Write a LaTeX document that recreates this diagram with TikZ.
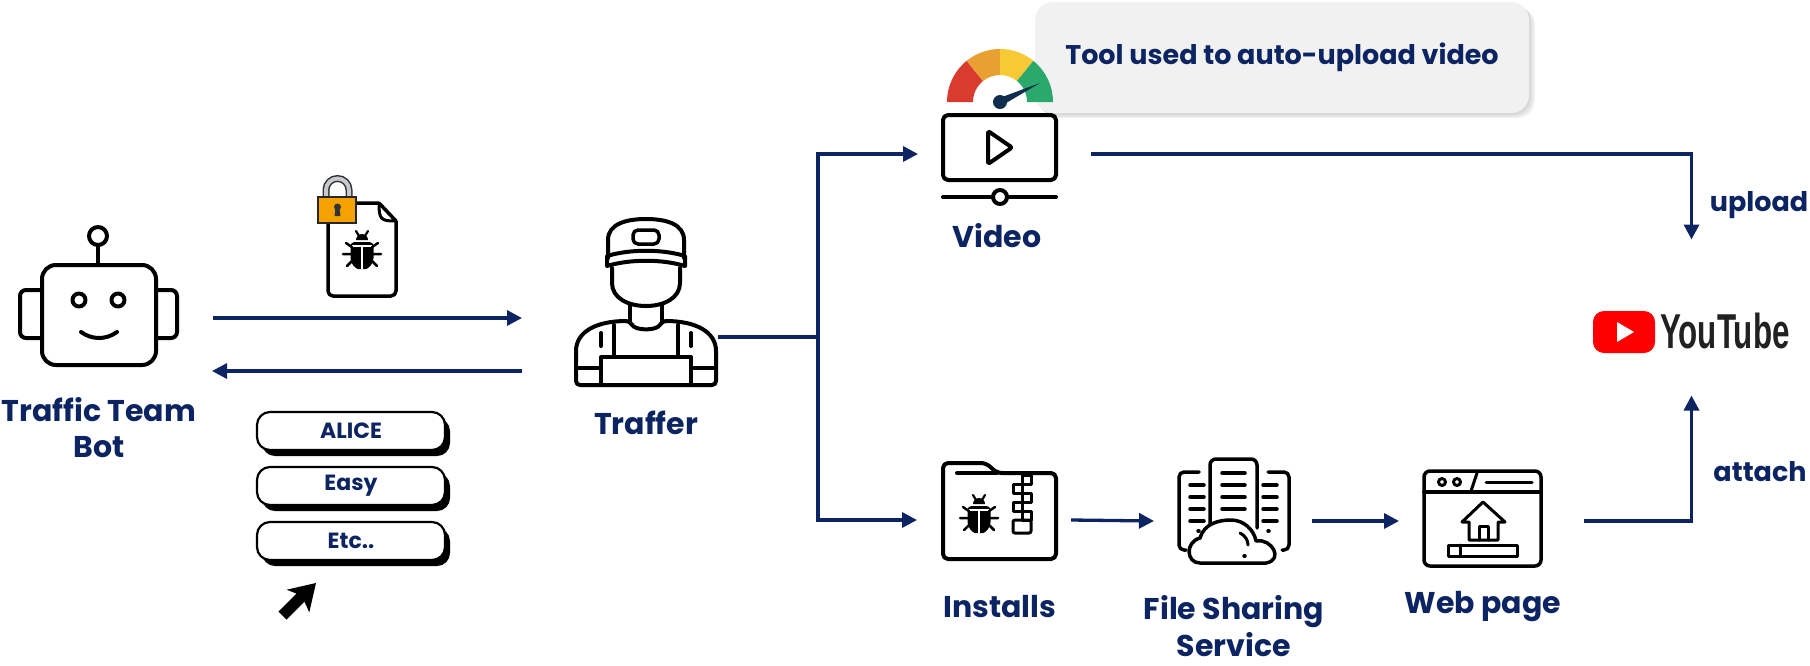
\documentclass[tikz,border=0pt]{standalone}
\usepackage{fontspec}
\usepackage{graphicx}
\setmainfont{Poppins}
\newfontfamily\ytfont{Liberation Sans}
\usetikzlibrary{arrows.meta,calc,shadows}

\definecolor{navy}{RGB}{12,37,98}
\definecolor{gRed}{RGB}{218,59,47}
\definecolor{gOrange}{RGB}{233,160,50}
\definecolor{gYellow}{RGB}{247,201,52}
\definecolor{gGreen}{RGB}{43,168,107}
\definecolor{needle}{RGB}{15,45,76}
\definecolor{tipgray}{RGB}{241,241,241}
\definecolor{lockorange}{RGB}{245,161,0}
\definecolor{shackle}{RGB}{196,202,206}
\definecolor{ytred}{RGB}{255,0,0}
\definecolor{ytgray}{RGB}{33,33,33}

\tikzset{
  pics/bug/.style={code={
    \fill (-6,-10) arc[start angle=180, end angle=360, radius=6] -- cycle;
    \fill[rounded corners=4] (-11.5,-8) -- (11.5,-8) -- (11.5,4)
      .. controls (11.5,14) and (6,19) .. (0,19)
      .. controls (-6,19) and (-11.5,14) .. (-11.5,4) -- cycle;
    \draw[white, line width=2pt] (-11.5,-4) -- (11.5,-4);
    \draw[white, line width=2pt] (0,-4) -- (0,19);
    \draw[line width=2.2pt, line cap=round] (-3,-14) -- (-6,-19) (3,-14) -- (6,-19);
    \draw[line width=2.5pt, line cap=round]
      (-10,-3) -- (-16,-7) (10,-3) -- (16,-7)
      (-11,4) -- (-19,4) (11,4) -- (19,4)
      (-10,11) -- (-15,16) (10,11) -- (15,16);
  }}
}

\begin{document}
\begin{tikzpicture}[x=1pt, y=-1pt,
  icon/.style={draw=black, line width=4pt, line cap=round, line join=round},
  fine/.style={draw=black, line width=3pt, line cap=round, line join=round},
  flow/.style={draw=navy, line width=3.3pt, -{Triangle[length=15pt,width=15pt]}},
  wire/.style={draw=navy, line width=3.3pt},
  lbl/.style={text=navy, font=\bfseries\fontsize{30}{36}\selectfont, align=center, inner sep=0},
  side/.style={text=navy, font=\bfseries\fontsize{27}{27}\selectfont, inner sep=0},
  slot/.style={inner sep=0, outer sep=0, draw=none},
  btn/.style={draw=black, line width=2.2pt, fill=white, rounded corners=13pt,
    minimum width=188pt, minimum height=38pt, inner sep=0, text=navy,
    font=\bfseries\fontsize{22}{22}\selectfont,
    drop shadow={shadow xshift=5pt, shadow yshift=-6pt, opacity=1, fill=black}},
]
\useasboundingbox (0,0) rectangle (1810,665);
\fill[white] (0,0) rectangle (1810,665);

% ---------- anchor boxes for the icons ----------
\node[slot, minimum width=157pt, minimum height=140pt] (bot) at (98.5,295) {};
\node[slot, minimum width=142pt, minimum height=175pt] (traffer) at (646,297.5) {};
\node[slot, minimum width=113pt, minimum height=100pt] (video) at (999.5,154) {};
\node[slot, minimum width=115pt, minimum height=100pt] (installs) at (999.5,520) {};
\node[slot, minimum width=113pt, minimum height=110pt] (share) at (1233.5,521) {};
\node[slot, minimum width=119pt, minimum height=97pt] (web) at (1482.5,521) {};
\node[slot, minimum width=197pt, minimum height=47pt] (yt) at (1691.5,332) {};

% ---------- robot ----------
\draw[icon] (98,236) circle[radius=9];
\draw[icon] (98,245) -- (98,265);
\draw[icon, rounded corners=14] (42,265) rectangle (156,365);
\draw[icon, rounded corners=6] (42,290) -- (20,290) -- (20,338) -- (42,338);
\draw[icon, rounded corners=6] (156,290) -- (177,290) -- (177,338) -- (156,338);
\draw[icon] (79,300) circle[radius=6.5];
\draw[icon] (118,300) circle[radius=6.5];
\draw[icon] (81,332) .. controls (92,340) and (106,340) .. (117,332);
\node[lbl] (botlbl) at (99,428) {Traffic Team\\Bot};

% ---------- encrypted file ----------
\draw[fine, line width=3.5pt, rounded corners=5] (379,203) -- (328,203) -- (328,296) -- (396,296) -- (396,221);
\draw[fine, line width=3.5pt] (379,203) -- (396,221);
\draw[fine, line width=3pt] (379,204) .. controls (379,219) and (381,221) .. (395,221);
\pic at (362,250) {bug};
\draw[line width=7pt, draw=black!80] (326,198) -- (326,190) arc[start angle=180, end angle=360, radius=11.5] -- (349,198);
\draw[line width=4pt, draw=shackle] (326,198) -- (326,190) arc[start angle=180, end angle=360, radius=11.5] -- (349,198);
\draw[line width=1.5pt, draw=black!85, fill=lockorange] (318,197) rectangle (356,223);
\fill[black!80] (337.5,207) circle[radius=3.5];
\fill[black!80] (335.5,208) -- (339.5,208) -- (340.5,216) -- (334.5,216) -- cycle;

% ---------- arrows bot <-> traffer ----------
\coordinate (rowTop) at (0,318);
\coordinate (rowBot) at (0,371);
\draw[flow] ($(bot.east |- rowTop)+(36,0)$) -- ($(traffer.west |- rowTop)+(-53,0)$);
\draw[flow] ($(traffer.west |- rowBot)+(-53,0)$) -- ($(bot.east |- rowBot)+(35,0)$);

% ---------- menu buttons and pointer ----------
\node[btn] (alice) at (351,431) {ALICE};
\node[btn] (easy) at (351,486) {Easy};
\node[btn] (etc) at (351,541) {Etc..};
\fill[black, line join=round] (316,583) -- (309.3,612.3) -- (304.4,601.6) -- (286.4,619.6)
  -- (278.4,611.6) -- (296.4,593.6) -- (286.7,589.7) -- cycle;

% ---------- traffer ----------
\draw[icon] (608,258) -- (608,240) .. controls (608,224) and (626,219) .. (646,219)
  .. controls (666,219) and (684,224) .. (684,240) -- (684,258);
\draw[fine, line width=3.5pt, rounded corners=5] (633,230) rectangle (659,244);
\draw[icon] (607,256) .. controls (630,249) and (662,249) .. (685,256) -- (685,266)
  .. controls (662,259) and (630,259) .. (607,266) -- cycle;
\draw[icon] (612,268) -- (612,283) .. controls (612,298) and (628,306) .. (646,306)
  .. controls (664,306) and (680,298) .. (680,283) -- (680,268);
\draw[icon] (630,304) -- (630,321) (662,304) -- (662,321);
\draw[icon, rounded corners=4] (576,385) -- (576,355) .. controls (576,332) and (596,321) .. (630,321)
  .. controls (635,331) and (657,331) .. (662,321)
  .. controls (696,321) and (716,332) .. (716,355) -- (716,385) -- cycle;
\draw[icon] (614,325) -- (614,357) (678,325) -- (678,357);
\draw[icon] (601,385) -- (601,357) -- (691,357) -- (691,385);
\draw[icon] (601,333) -- (601,346) (691,333) -- (691,346);
\draw[icon] (577,368) -- (601,368) (691,368) -- (715,368);
\node[lbl] (trafferlbl) at (646,423) {Traffer};

% ---------- traffer -> video / installs ----------
\coordinate (hub) at (818,337);
\draw[wire] ($(traffer.east |- hub)+(1,0)$) -- (hub);
\draw[flow] (hub) |- ($(video.west)+(-25,0)$);
\draw[flow] (hub) |- ($(installs.west)+(-25,0)$);

% ---------- callout ----------
\node[rounded corners=18pt, fill=tipgray, minimum width=494pt, minimum height=111pt,
  inner sep=0, text=navy, font=\bfseries\fontsize{27}{27}\selectfont,
  preaction={fill=black, opacity=0.05, transform canvas={shift={(2pt,-2pt)}}},
  preaction={fill=black, opacity=0.05, transform canvas={shift={(4pt,-4pt)}}},
  preaction={fill=black, opacity=0.05, transform canvas={shift={(6pt,-5pt)}}}]
  (tip) at (1282,57.5) {Tool used to auto-upload video};

% ---------- gauge ----------
\foreach \a/\b/\c in {180/231/gRed, 231/270/gOrange, 270/309/gYellow, 309/360/gGreen}
  \fill[\c] ([shift={(\a:53)}]1000,102) arc[start angle=\a, end angle=\b, radius=53]
    -- ([shift={(\b:27)}]1000,102) arc[start angle=\b, end angle=\a, radius=27] -- cycle;
\fill[needle, line join=round] (998.3,98.4) -- (1040,83) -- (1001.7,105.6) -- cycle;
\fill[needle] (1000,102) circle[radius=7];

% ---------- video ----------
\draw[icon, rounded corners=5] (943,115) rectangle (1056,180);
\draw[icon, rounded corners=2] (988,131) -- (988,164) -- (1012,147.5) -- cycle;
\draw[icon] (943,197) -- (993,197) (1007,197) -- (1056,197);
\draw[icon, fill=white] (1000,197) circle[radius=7];
\node[lbl] (videolbl) at (997,236) {Video};

% ---------- installs ----------
\draw[icon, rounded corners=5] (943,559) -- (943,463) -- (986,463) -- (997,473) -- (1056,473) -- (1056,559) -- cycle;
\draw[icon] (957,473) -- (997,473);
\foreach \yy/\xx in {475/1022, 484/1013, 493/1022, 502/1013, 511/1022}
  \draw[fine, line width=3pt] (\xx,\yy) rectangle ++(9,9);
\draw[fine, line width=3pt, rounded corners=2] (1013,520) rectangle (1031,533);
\pic at (979,514) {bug};
\node[lbl] (installslbl) at (1000,607) {Installs};

% ---------- file sharing ----------
\draw[fine, line width=3.5pt, rounded corners=5] (1199,472) -- (1179,472) -- (1179,550) -- (1186,550);
\draw[fine, line width=3.5pt, rounded corners=5] (1268,472) -- (1289,472) -- (1289,550) -- (1282,550);
\draw[fine, line width=3.5pt, rounded corners=6] (1210,528) -- (1210,459) -- (1257,459) -- (1257,528);
\foreach \yy in {473,485,497,509} \draw[fine, line width=3.5pt] (1222,\yy) -- (1245,\yy);
\foreach \yy in {485,497,509,521} \draw[fine, line width=3.5pt] (1190,\yy) -- (1204,\yy) (1263,\yy) -- (1277,\yy);
\draw[fine, line width=3.5pt] (1198,531) -- (1199,531) (1268,531) -- (1269,531);
\draw[fine, line width=3.5pt, fill=white] (1200,563) .. controls (1186,563) and (1185,542) .. (1200,538)
  .. controls (1204,524) and (1218,520) .. (1231,520)
  .. controls (1244,520) and (1254,530) .. (1256,541)
  .. controls (1272,538) and (1284,560) .. (1266,563) -- cycle;
\draw[fine, line width=3.5pt] (1244,556) -- (1245,556);
\draw[fine, line width=3pt] (1240,533) .. controls (1246,536) and (1248,541) .. (1248,545);
\node[lbl, font=\bfseries\fontsize{30}{37}\selectfont] (sharelbl) at (1234,626) {File Sharing\\Service};

% ---------- web page ----------
\draw[fine, line width=3.5pt, rounded corners=6] (1424,471) rectangle (1541,566);
\draw[fine, line width=3.5pt] (1424,492) -- (1541,492);
\draw[fine, line width=3pt] (1442,482) circle[radius=3.5] (1457,482) circle[radius=3.5];
\draw[fine, line width=3pt] (1477,473) -- (1471,491);
\draw[fine, line width=3pt] (1486,482) -- (1532,482);
\draw[fine, line width=3pt] (1462,522) -- (1483,502) -- (1505,522) -- (1498,522) -- (1498,540) -- (1469,540) -- (1469,522) -- cycle;
\draw[fine, line width=3pt] (1479,540) -- (1479,526) -- (1488,526) -- (1488,540);
\draw[fine, line width=3pt] (1448,545) rectangle (1517,556);
\draw[fine, line width=3pt] (1460,545) -- (1460,556);
\node[lbl] (weblbl) at (1483,607) {Web page};

% ---------- flow along the bottom ----------
\draw[flow] ($(installs.east)+(14,0)$) -- ($(share.west)+(-23,0)$);
\draw[flow] ($(share.east)+(22,0)$) -- ($(web.west)+(-24,0)$);

% ---------- YouTube ----------
\fill[ytred, rounded corners=11] (1593,311) rectangle (1655,353);
\fill[white] (1617,322) -- (1617,342) -- (1634,332) -- cycle;
\node[anchor=west, inner sep=0, text=ytgray] (ytword) at (1660,331)
  {\ytfont\bfseries\fontsize{49}{49}\selectfont\scalebox{0.64}[1]{YouTube}};

\draw[flow] ($(video.east)+(35,0)$) -| ($(yt.north)+(0,-69)$);
\draw[flow] ($(web.east)+(42,0)$) -| ($(yt.south)+(0,40)$);
\node[side] (uploadlbl) at (1759,205) {upload};
\node[side] (attachlbl) at (1760,472) {attach};
\end{tikzpicture}
\end{document}
